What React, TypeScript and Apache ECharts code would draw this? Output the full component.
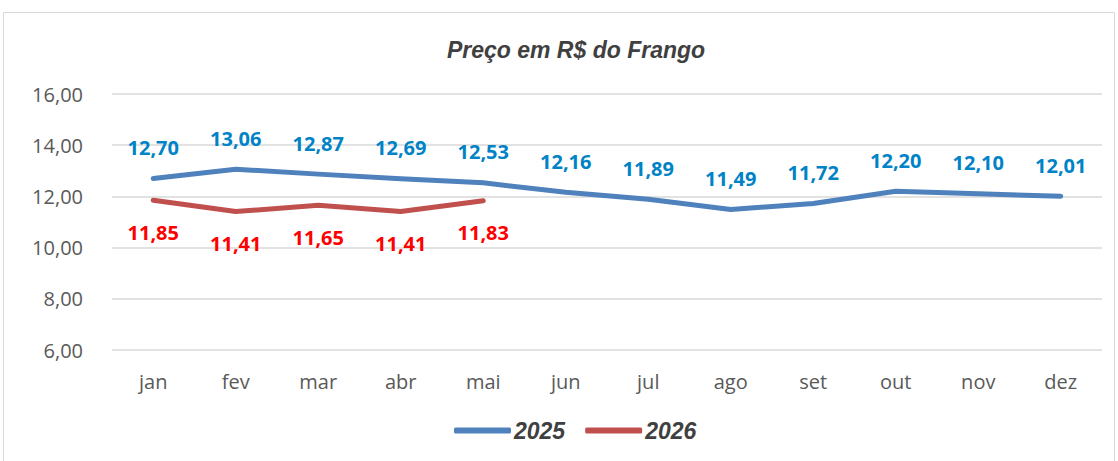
import React, { useEffect, useRef } from "react";
import * as echarts from "echarts";

const categories = ["jan", "fev", "mar", "abr", "mai", "jun", "jul", "ago", "set", "out", "nov", "dez"];
const values2025 = [12.7, 13.06, 12.87, 12.69, 12.53, 12.16, 11.89, 11.49, 11.72, 12.2, 12.1, 12.01];
const values2026 = [11.85, 11.41, 11.65, 11.41, 11.83];
const seriesNames = ["2025", "2026"];

const fmt = (v: number) => v.toFixed(2).replace(".", ",");

export default function App() {
  const ref = useRef<HTMLDivElement>(null);
  useEffect(() => {
    const chart = echarts.init(ref.current!, undefined, { renderer: "svg" });
    chart.setOption({
      animation: false,
      backgroundColor: "#ffffff",
      title: {
        text: "Preço em R$ do Frango",
        left: 571,
        textAlign: "center",
        top: 33,
        textStyle: {
          fontFamily: "Liberation Sans, Arial",
          fontStyle: "italic",
          fontWeight: "bold",
          fontSize: 23,
          color: "#404040",
        },
      },
      graphic: [
        {
          type: "rect",
          shape: { x: 3.5, y: 12.5, width: 1111, height: 460 },
          style: { fill: "none", stroke: "#d9d9d9", lineWidth: 1 },
          silent: true,
        },
      ],
      legend: {
        bottom: 14,
        left: 449,
        itemWidth: 57,
        itemHeight: 6,
        itemGap: 20,
        icon: "roundRect",
        data: seriesNames,
        textStyle: {
          fontFamily: "Liberation Sans, Arial",
          fontStyle: "italic",
          fontWeight: "bold",
          fontSize: 23,
          color: "#404040",
          padding: [0, 0, 0, -2],
        },
      },
      grid: { left: 112, right: 16, top: 94, bottom: 111, containLabel: false },
      xAxis: {
        type: "category",
        data: categories,
        boundaryGap: true,
        axisLine: { show: false },
        axisTick: { show: false },
        axisLabel: {
          margin: 21,
          fontFamily: "Open Sans, Noto Sans",
          fontSize: 20,
          color: "#595959",
        },
      },
      yAxis: {
        type: "value",
        min: 6,
        max: 16,
        interval: 2,
        axisLine: { show: false },
        axisTick: { show: false },
        splitLine: { lineStyle: { color: "#d9d9d9", width: 1.5 } },
        axisLabel: {
          margin: 29,
          formatter: (v: number) => fmt(v),
          fontFamily: "Open Sans, Noto Sans",
          fontSize: 20,
          color: "#595959",
        },
      },
      series: [
        {
          name: seriesNames[0],
          type: "line",
          data: values2025,
          symbol: "circle",
          symbolSize: 0.1,
          showSymbol: true,
          lineStyle: { color: "#4f81bd", width: 5, cap: "round", join: "round" },
          itemStyle: { color: "#4f81bd" },
          label: {
            show: true,
            position: "top",
            distance: 21,
            formatter: (p: any) => fmt(p.value),
            fontFamily: "Open Sans, Noto Sans",
            fontWeight: "bold",
            fontSize: 20,
            color: "#0083c6",
          },
        },
        {
          name: seriesNames[1],
          type: "line",
          data: values2026,
          symbol: "circle",
          symbolSize: 0.1,
          showSymbol: true,
          lineStyle: { color: "#c0504d", width: 5, cap: "round", join: "round" },
          itemStyle: { color: "#c0504d" },
          label: {
            show: true,
            position: "bottom",
            distance: 22,
            formatter: (p: any) => fmt(p.value),
            fontFamily: "Open Sans, Noto Sans",
            fontWeight: "bold",
            fontSize: 20,
            color: "#ff0000",
          },
        },
      ],
    });
    return () => chart.dispose();
  }, []);
  return (
    <div
      ref={ref}
      style={{ position: "fixed", left: 0, top: 0, width: 1118, height: 461 }}
    />
  );
}
